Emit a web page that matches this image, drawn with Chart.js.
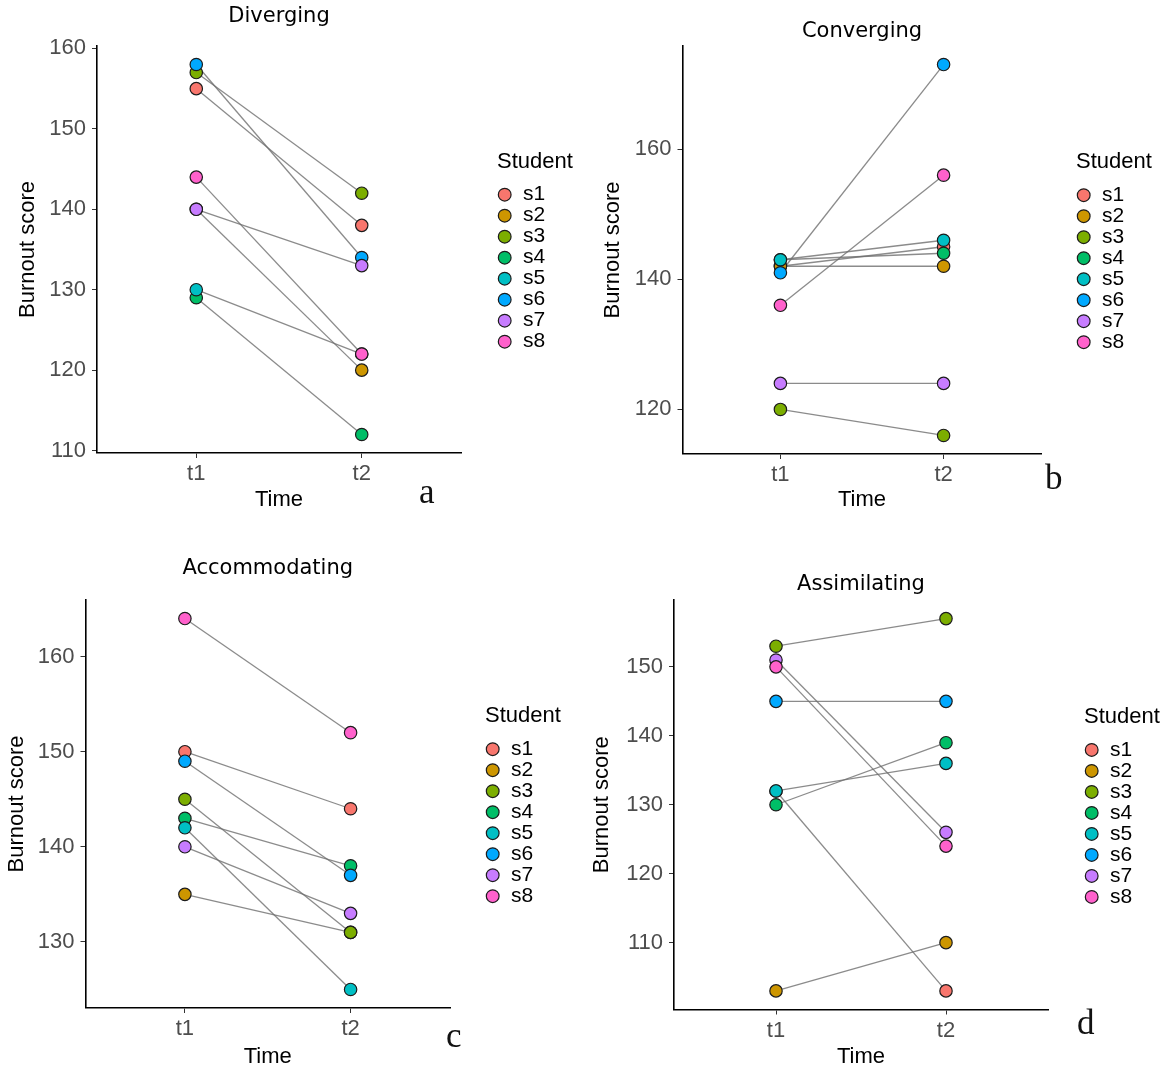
<!DOCTYPE html>
<html>
<head>
<meta charset="utf-8">
<script src="https://cdn.jsdelivr.net/npm/chart.js@4.4.1/dist/chart.umd.min.js"></script>
<style>
  html, body { margin: 0; padding: 0; background: #fff; }
  #page { position: relative; width: 1170px; height: 1074px; overflow: hidden; }
  canvas { position: absolute; }
  .tag { position: absolute; font-family: 'Liberation Serif', 'Times New Roman', serif; font-size: 35px; line-height: 1; color: #111; }
</style>
</head>
<body>
<div id="page">
  <canvas id="panelA" width="585" height="537" style="left:0;top:0"></canvas>
  <canvas id="panelB" width="585" height="537" style="left:585px;top:0"></canvas>
  <canvas id="panelC" width="585" height="537" style="left:0;top:537px"></canvas>
  <canvas id="panelD" width="585" height="537" style="left:585px;top:537px"></canvas>
  <div class="tag" style="left:419px;top:474px">a</div>
  <div class="tag" style="left:1045px;top:460px">b</div>
  <div class="tag" style="left:446px;top:1018px">c</div>
  <div class="tag" style="left:1077px;top:1005px">d</div>
</div>
<script>
(() => {
    'use strict'

    const students = ['s1', 's2', 's3', 's4', 's5', 's6', 's7', 's8'];
    const times = ['t1', 't2'];
    const timeTicks = [1, 2];

    // burnout score per student (s1..s8) at t1 and t2
    const divergingT1 = [155, 140, 157, 129, 130, 158, 140, 144];
    const divergingT2 = [138, 120, 142, 112, 122, 134, 133, 122];
    const convergingT1 = [142, 142, 120, 143, 143, 141, 124, 136];
    const convergingT2 = [145, 142, 116, 144, 146, 173, 124, 156];
    const accommodatingT1 = [150, 135, 145, 143, 142, 149, 140, 164];
    const accommodatingT2 = [144, 131, 131, 138, 125, 137, 133, 152];
    const assimilatingT1 = [132, 103, 153, 130, 132, 145, 151, 150];
    const assimilatingT2 = [103, 110, 157, 139, 136, 145, 126, 124];

    const divergingTicks = [110, 120, 130, 140, 150, 160];
    const convergingTicks = [120, 140, 160];
    const accommodatingTicks = [130, 140, 150, 160];
    const assimilatingTicks = [110, 120, 130, 140, 150];

    // ggplot default hue palette
    const studentColors = ['#F8766D', '#CD9600', '#7CAE00', '#00BE67', '#00BFC4', '#00A9FF', '#C77CFF', '#FF61CC'];

    const SANS = "'Liberation Sans', Arial, sans-serif";
    const W = 585, H = 537;

    // puts the legend to the right of the plot panel, like ggplot does
    const legendPlace = {
        id: 'legendPlace',
        afterLayout(chart, args, opts) {
            const lg = chart.legend;
            const area = chart.chartArea;
            lg.left = opts.x;
            lg.width = 90;
            lg.right = opts.x + 90;
            lg.top = area.top;
            lg.bottom = area.bottom;
            lg.height = area.bottom - area.top;
        }
    };

    function drawPanel(id, title, t1, t2, yTicks, g) {
        const all = t1.concat(t2);
        const lo = Math.min(...all);
        const hi = Math.max(...all);
        const expand = (hi - lo) * 0.05;

        const padL = g.yTitleX - 13.2;
        const yW = g.L - padL;
        const xH = g.timeY + 13.2 - g.B;
        const padB = H - g.timeY - 13.2;

        const lines = students.map((s, i) => ({
            label: s,
            data: [{ x: timeTicks[0], y: t1[i] }, { x: timeTicks[1], y: t2[i] }],
            borderColor: 'rgba(110,110,110,0.8)',
            borderWidth: 1.3,
            pointRadius: 0,
            pointHoverRadius: 0,
            order: 100
        }));
        const points = students.map((s, i) => ({
            label: s,
            data: [{ x: timeTicks[0], y: t1[i] }, { x: timeTicks[1], y: t2[i] }],
            showLine: false,
            backgroundColor: studentColors[i],
            borderColor: '#1c1c1c',
            pointBackgroundColor: studentColors[i],
            pointBorderColor: '#1c1c1c',
            pointBorderWidth: 1.2,
            pointRadius: 6.2,
            order: students.length - i
        }));

        new Chart(document.getElementById(id), {
            type: 'line',
            data: { datasets: lines.concat(points) },
            options: {
                responsive: false,
                animation: false,
                events: [],
                layout: { padding: { left: padL, right: W - g.R, top: 0, bottom: padB } },
                plugins: {
                    title: {
                        display: true,
                        text: title,
                        fullSize: false,
                        color: '#000',
                        font: { family: "'DejaVu Sans', sans-serif", size: 21, weight: 'normal' },
                        padding: { top: g.titleY - 12.6, bottom: g.T - 25.2 - (g.titleY - 12.6) }
                    },
                    legend: {
                        position: 'chartArea',
                        align: 'center',
                        title: {
                            display: true,
                            text: 'Student',
                            position: 'start',
                            color: '#000',
                            font: { family: SANS, size: 22 },
                            padding: { top: 4, bottom: 7 }
                        },
                        labels: {
                            usePointStyle: true,
                            boxWidth: 15.4,
                            boxHeight: 9,
                            padding: 0,
                            color: '#000',
                            font: { family: SANS, size: 21 },
                            filter: item => item.datasetIndex >= students.length,
                            sort: (a, b) => a.datasetIndex - b.datasetIndex
                        }
                    },
                    legendPlace: { x: g.legendX },
                    tooltip: { enabled: false }
                },
                scales: {
                    x: {
                        type: 'linear',
                        min: 0.4,
                        max: 2.6,
                        afterBuildTicks: s => { s.ticks = timeTicks.map(v => ({ value: v })); },
                        afterFit: s => { s.height = xH; },
                        grid: { drawOnChartArea: false, drawTicks: true, tickLength: 5, color: '#333' },
                        border: { display: true, color: '#000', width: 1.6 },
                        ticks: {
                            callback: v => times[timeTicks.indexOf(v)],
                            padding: 3,
                            color: '#4d4d4d',
                            font: { family: SANS, size: 22 }
                        },
                        title: { display: true, text: 'Time', color: '#000', font: { family: SANS, size: 22 }, padding: 0 }
                    },
                    y: {
                        min: lo - expand,
                        max: hi + expand,
                        afterBuildTicks: s => { s.ticks = yTicks.map(v => ({ value: v })); },
                        afterFit: s => { s.width = yW; },
                        grid: { drawOnChartArea: false, drawTicks: true, tickLength: 5, color: '#333' },
                        border: { display: true, color: '#000', width: 1.6 },
                        ticks: { padding: 6, color: '#4d4d4d', font: { family: SANS, size: 22 } },
                        title: { display: true, text: 'Burnout score', color: '#000', font: { family: SANS, size: 22 }, padding: 0 }
                    }
                }
            },
            plugins: [legendPlace]
        });
    }

    drawPanel('panelA', 'Diverging', divergingT1, divergingT2, divergingTicks,
        { L: 97, R: 461, T: 46, B: 453, titleY: 17, yTitleX: 28, timeY: 500, legendX: 497 });
    drawPanel('panelB', 'Converging', convergingT1, convergingT2, convergingTicks,
        { L: 97.5, R: 456.5, T: 46, B: 454, titleY: 31.7, yTitleX: 28, timeY: 500, legendX: 491 });
    drawPanel('panelC', 'Accommodating', accommodatingT1, accommodatingT2, accommodatingTicks,
        { L: 85.5, R: 450, T: 63, B: 471, titleY: 32, yTitleX: 17, timeY: 520, legendX: 485 });
    drawPanel('panelD', 'Assimilating', assimilatingT1, assimilatingT2, assimilatingTicks,
        { L: 89, R: 463, T: 63, B: 472.5, titleY: 47.5, yTitleX: 17, timeY: 520, legendX: 499 });
})();
</script>
</body>
</html>
